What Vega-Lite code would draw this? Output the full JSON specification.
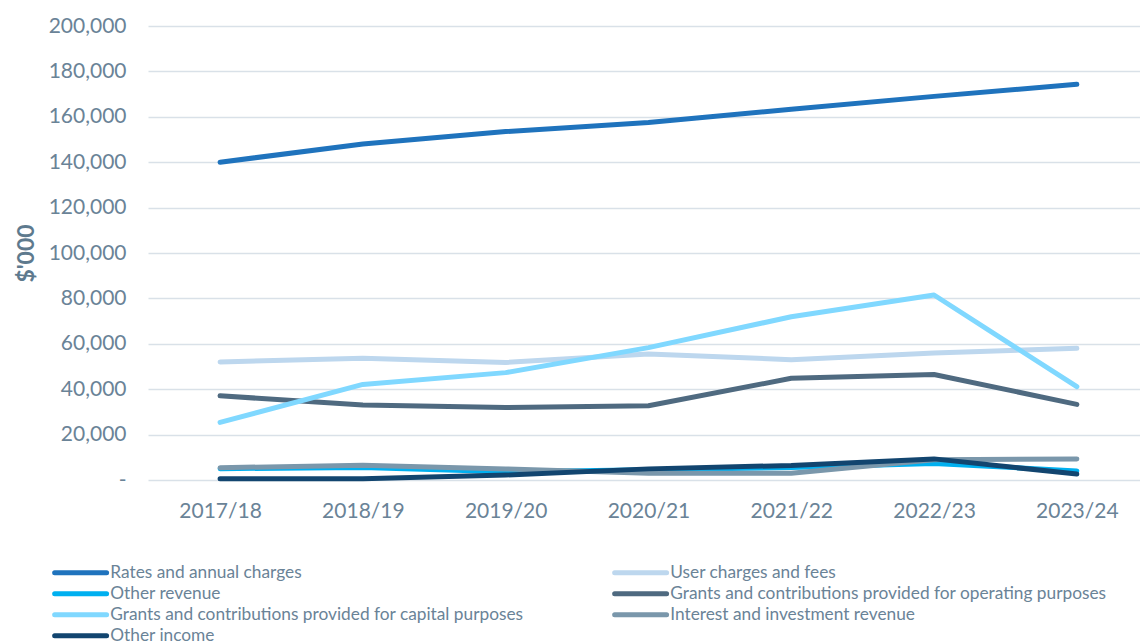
{
  "$schema": "https://vega.github.io/schema/vega-lite/v6.json",
  "width": 992,
  "height": 454,
  "autosize": "none",
  "padding": {"left": 148, "top": 26, "right": 0, "bottom": 164},
  "background": "white",
  "config": {
    "font": "Lato",
    "view": {"stroke": null}
  },
  "data": {
    "values": [
      {"year": "2017/18", "series": "Rates and annual charges", "value": 140000},
      {"year": "2018/19", "series": "Rates and annual charges", "value": 148000},
      {"year": "2019/20", "series": "Rates and annual charges", "value": 153500},
      {"year": "2020/21", "series": "Rates and annual charges", "value": 157500},
      {"year": "2021/22", "series": "Rates and annual charges", "value": 163300},
      {"year": "2022/23", "series": "Rates and annual charges", "value": 169000},
      {"year": "2023/24", "series": "Rates and annual charges", "value": 174300},
      {"year": "2017/18", "series": "User charges and fees", "value": 52000},
      {"year": "2018/19", "series": "User charges and fees", "value": 53600},
      {"year": "2019/20", "series": "User charges and fees", "value": 51800},
      {"year": "2020/21", "series": "User charges and fees", "value": 55500},
      {"year": "2021/22", "series": "User charges and fees", "value": 53000},
      {"year": "2022/23", "series": "User charges and fees", "value": 56000},
      {"year": "2023/24", "series": "User charges and fees", "value": 58000},
      {"year": "2017/18", "series": "Other revenue", "value": 5000},
      {"year": "2018/19", "series": "Other revenue", "value": 5500},
      {"year": "2019/20", "series": "Other revenue", "value": 3600},
      {"year": "2020/21", "series": "Other revenue", "value": 4500},
      {"year": "2021/22", "series": "Other revenue", "value": 5500},
      {"year": "2022/23", "series": "Other revenue", "value": 7300},
      {"year": "2023/24", "series": "Other revenue", "value": 4000},
      {"year": "2017/18", "series": "Grants and contributions provided for operating purposes", "value": 37100},
      {"year": "2018/19", "series": "Grants and contributions provided for operating purposes", "value": 33000},
      {"year": "2019/20", "series": "Grants and contributions provided for operating purposes", "value": 31900},
      {"year": "2020/21", "series": "Grants and contributions provided for operating purposes", "value": 32700},
      {"year": "2021/22", "series": "Grants and contributions provided for operating purposes", "value": 44800},
      {"year": "2022/23", "series": "Grants and contributions provided for operating purposes", "value": 46500},
      {"year": "2023/24", "series": "Grants and contributions provided for operating purposes", "value": 33300},
      {"year": "2017/18", "series": "Grants and contributions provided for capital purposes", "value": 25400},
      {"year": "2018/19", "series": "Grants and contributions provided for capital purposes", "value": 42100},
      {"year": "2019/20", "series": "Grants and contributions provided for capital purposes", "value": 47300},
      {"year": "2020/21", "series": "Grants and contributions provided for capital purposes", "value": 58300},
      {"year": "2021/22", "series": "Grants and contributions provided for capital purposes", "value": 71900},
      {"year": "2022/23", "series": "Grants and contributions provided for capital purposes", "value": 81500},
      {"year": "2023/24", "series": "Grants and contributions provided for capital purposes", "value": 41100},
      {"year": "2017/18", "series": "Interest and investment revenue", "value": 5400},
      {"year": "2018/19", "series": "Interest and investment revenue", "value": 6500},
      {"year": "2019/20", "series": "Interest and investment revenue", "value": 4900},
      {"year": "2020/21", "series": "Interest and investment revenue", "value": 3000},
      {"year": "2021/22", "series": "Interest and investment revenue", "value": 3000},
      {"year": "2022/23", "series": "Interest and investment revenue", "value": 8900},
      {"year": "2023/24", "series": "Interest and investment revenue", "value": 9300},
      {"year": "2017/18", "series": "Other income", "value": 500},
      {"year": "2018/19", "series": "Other income", "value": 500},
      {"year": "2019/20", "series": "Other income", "value": 2200},
      {"year": "2020/21", "series": "Other income", "value": 4900},
      {"year": "2021/22", "series": "Other income", "value": 6400},
      {"year": "2022/23", "series": "Other income", "value": 9300},
      {"year": "2023/24", "series": "Other income", "value": 2600}
    ]
  },
  "mark": {"type": "line", "strokeWidth": 5, "strokeCap": "round", "strokeJoin": "round"},
  "encoding": {
    "x": {
      "field": "year",
      "type": "ordinal",
      "sort": null,
      "scale": {"type": "point", "padding": 0.4735, "align": 0.533},
      "axis": {
        "title": null,
        "labelAngle": 0,
        "labelFontSize": 21,
        "labelColor": "#6A8397",
        "labelPadding": 20,
        "ticks": false,
        "domain": false,
        "grid": false
      }
    },
    "y": {
      "field": "value",
      "type": "quantitative",
      "scale": {"domain": [0, 200000], "nice": false},
      "axis": {
        "title": "$'000",
        "titleFontSize": 23,
        "titleFontWeight": "bold",
        "titleColor": "#5E7A8E",
        "titlePadding": 10,
        "values": [0, 20000, 40000, 60000, 80000, 100000, 120000, 140000, 160000, 180000, 200000],
        "labelExpr": "datum.value === 0 ? '-' : format(datum.value, ',')",
        "labelFontSize": 21,
        "labelColor": "#6A8397",
        "labelPadding": 22,
        "ticks": false,
        "domain": false,
        "gridColor": "#D9E1E8",
        "gridWidth": 1.5
      }
    },
    "color": {
      "field": "series",
      "type": "nominal",
      "sort": null,
      "scale": {
        "domain": [
          "Rates and annual charges",
          "User charges and fees",
          "Other revenue",
          "Grants and contributions provided for operating purposes",
          "Grants and contributions provided for capital purposes",
          "Interest and investment revenue",
          "Other income"
        ],
        "range": ["#1F73BD", "#BDD7EE", "#00B0F0", "#4F6A80", "#80D8FF", "#7A97AB", "#12456F"]
      },
      "legend": {
        "title": null,
        "orient": "none",
        "legendX": -102,
        "legendY": 538,
        "columns": 2,
        "direction": "horizontal",
        "symbolType": "M0,0H10",
        "symbolSize": 108,
        "symbolStrokeWidth": 5,
        "labelFontSize": 17.3,
        "labelColor": "#6A8397",
        "labelOffset": 47,
        "rowPadding": 0,
        "columnPadding": 80,
        "labelLimit": 600,
        "encode": {
          "symbols": {"update": {"strokeCap": {"value": "round"}}}
        }
      }
    }
  }
}
